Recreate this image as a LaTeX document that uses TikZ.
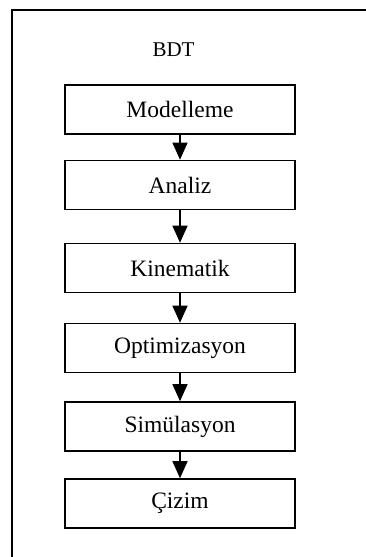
\documentclass[tikz,border=0pt]{standalone}
\usepackage{fontspec}
\setmainfont{Liberation Serif}
\usetikzlibrary{arrows.meta}
\begin{document}
\begin{tikzpicture}[x=1pt,y=-1pt,
  stepbox/.style={draw=black,line width=1.6pt,minimum width=230pt,minimum height=49pt,inner sep=0pt,
    font=\fontsize{23.5}{27}\selectfont,text=black},
  conn/.style={line width=1.4pt,-{Triangle[width=15pt,length=17pt]}},
  frameline/.style={line width=1.6pt}]
\useasboundingbox (0,0) rectangle (366,557);
\coordinate (tl) at (12,10);
\coordinate (tr) at (366,10);
\coordinate (bl) at (12,557);
\draw[frameline] (tr) -- (tl) -- (bl);
\node[font=\fontsize{21}{25}\selectfont] (title) at (173.5,50) {BDT};
\node[stepbox] (b1) at (180,109.5) {Modelleme};
\node[stepbox] (b2) at (180,185) {Analiz};
\node[stepbox] (b3) at (180,268) {Kinematik};
\node[stepbox] (b4) at (180,348) {Optimizasyon};
\node[stepbox] (b5) at (180,426.5) {Simülasyon};
\node[stepbox] (b6) at (180,503.5) {Çizim};
\draw[conn] (b1) -- (b2);
\draw[conn] (b2) -- (b3);
\draw[conn] (b3) -- (b4);
\draw[conn] (b4) -- (b5);
\draw[conn] (b5) -- (b6);
\end{tikzpicture}
\end{document}
